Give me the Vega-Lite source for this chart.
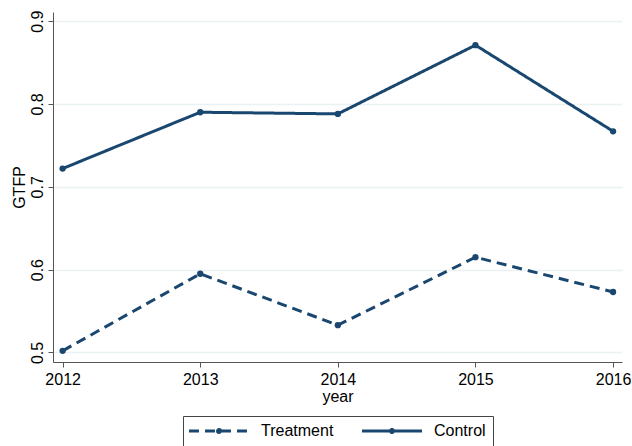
{
  "$schema": "https://vega.github.io/schema/vega-lite/v6.json",
  "width": 569,
  "height": 350,
  "autosize": {"type": "none"},
  "padding": {"left": 53, "top": 12, "right": 10, "bottom": 84},
  "background": "white",
  "config": {
    "font": "Liberation Sans",
    "view": {"stroke": null},
    "axis": {
      "labelFont": "Liberation Sans",
      "titleFont": "Liberation Sans",
      "labelFontSize": 16,
      "titleFontSize": 16,
      "titleFontWeight": "normal",
      "labelColor": "#000000",
      "titleColor": "#000000",
      "domainColor": "#555555",
      "tickColor": "#555555",
      "tickSize": 5
    }
  },
  "data": {
    "values": [
      {"year": 2012, "GTFP": 0.722, "group": "Control"},
      {"year": 2013, "GTFP": 0.790, "group": "Control"},
      {"year": 2014, "GTFP": 0.788, "group": "Control"},
      {"year": 2015, "GTFP": 0.871, "group": "Control"},
      {"year": 2016, "GTFP": 0.767, "group": "Control"},
      {"year": 2012, "GTFP": 0.502, "group": "Treatment"},
      {"year": 2013, "GTFP": 0.595, "group": "Treatment"},
      {"year": 2014, "GTFP": 0.533, "group": "Treatment"},
      {"year": 2015, "GTFP": 0.615, "group": "Treatment"},
      {"year": 2016, "GTFP": 0.573, "group": "Treatment"}
    ]
  },
  "mark": {
    "type": "line",
    "strokeWidth": 3,
    "color": "#1a476f",
    "point": {"filled": true, "size": 40, "color": "#1a476f"}
  },
  "encoding": {
    "x": {
      "field": "year",
      "type": "quantitative",
      "title": "year",
      "scale": {"domain": [2011.93, 2016.065], "nice": false, "zero": false},
      "axis": {"values": [2012, 2013, 2014, 2015, 2016], "format": "d", "grid": false, "labelPadding": 4, "titlePadding": 1, "labelOverlap": false, "labelFlush": false}
    },
    "y": {
      "field": "GTFP",
      "type": "quantitative",
      "title": "GTFP",
      "scale": {"domain": [0.4885, 0.911], "nice": false, "zero": false},
      "axis": {"values": [0.5, 0.6, 0.7, 0.8, 0.9], "format": ".1f", "grid": true, "gridColor": "#eaf2f3", "gridWidth": 1.5, "labelAngle": -90, "labelAlign": "center", "labelBaseline": "bottom", "labelPadding": 3, "titlePadding": 2}
    },
    "strokeDash": {
      "field": "group",
      "type": "nominal",
      "scale": {"domain": ["Treatment", "Control"], "range": [[10, 6], [1, 0]]},
      "legend": {
        "title": null,
        "orient": "none",
        "legendX": 130,
        "legendY": 404,
        "direction": "horizontal",
        "symbolType": "M-1.8,0L10.2,0M4.5,0A0.3,0.3 0 1 1 3.9,0A0.3,0.3 0 1 1 4.5,0",
        "symbolSize": 100,
        "symbolStrokeWidth": 3,
        "symbolStrokeColor": "#1a476f",
        "symbolFillColor": "#1a476f",
        "labelFontSize": 16,
        "labelFont": "Liberation Sans",
        "labelColor": "#000000",
        "strokeColor": "#444444",
        "fillColor": "white",
        "padding": 7,
        "columnPadding": 22,
        "labelOffset": 55,
        "encode": {
          "symbols": {
            "update": {
              "stroke": {"value": "#1a476f"},
              "strokeWidth": {"value": 3},
              "strokeOpacity": {"value": 1},
              "fill": {"value": "#1a476f"}
            }
          }
        }
      }
    }
  }
}
